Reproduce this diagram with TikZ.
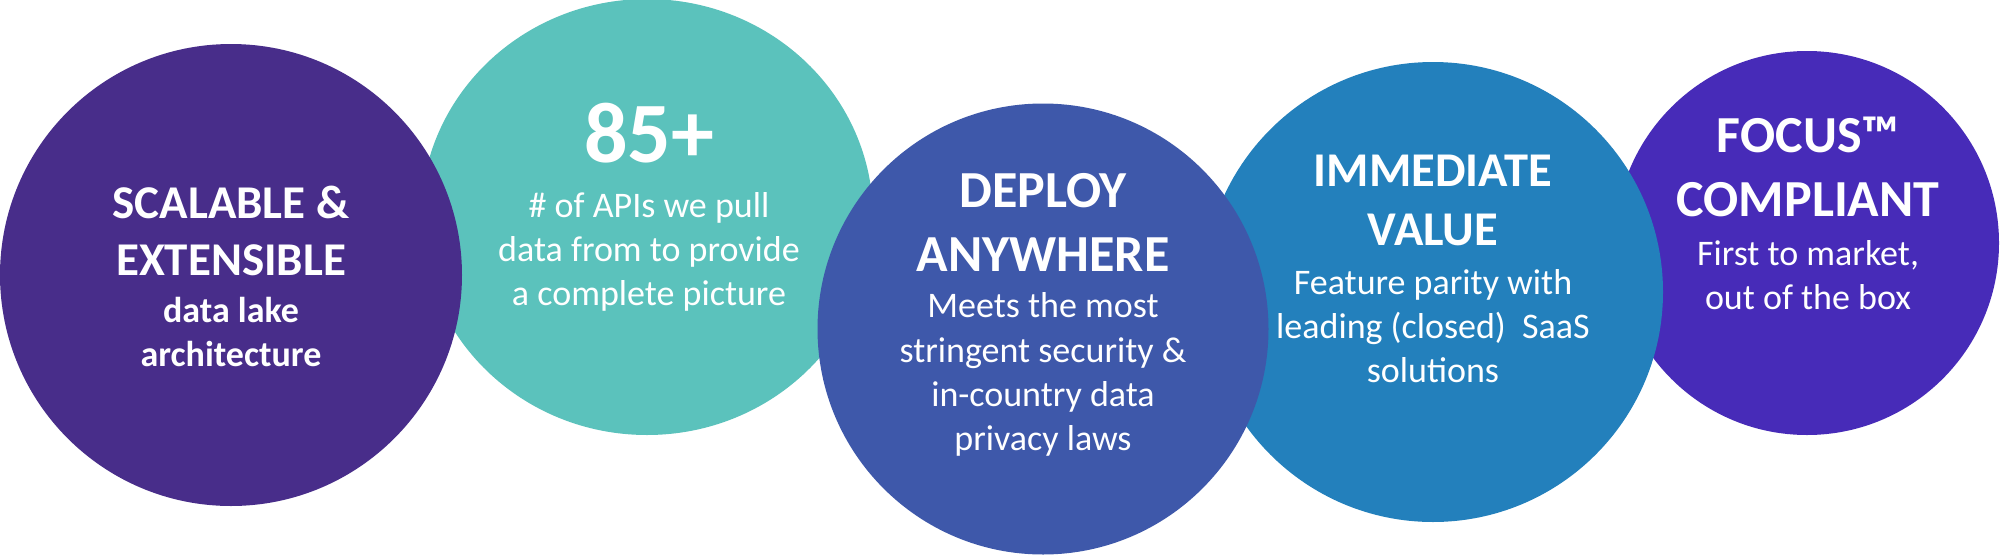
\documentclass[tikz,border=0pt]{standalone}
\usepackage{fontspec}
\setmainfont{Carlito}
\usetikzlibrary{shapes.geometric}
\definecolor{cPurple}{HTML}{482D8A}
\definecolor{cTeal}{HTML}{5BC2BC}
\definecolor{cDeploy}{HTML}{3E58AA}
\definecolor{cValue}{HTML}{2380BC}
\definecolor{cFocus}{HTML}{472BB8}
\begin{document}
\begin{tikzpicture}[x=1pt,y=-1pt,
  disc/.style={circle, inner sep=0pt, outer sep=0pt, draw=none},
  oval/.style={ellipse, inner sep=0pt, outer sep=0pt, draw=none},
  txt/.style={text=white, anchor=base, inner sep=0pt, outer sep=0pt},
  headA/.style={txt, font=\bfseries\fontsize{47}{56}\selectfont},
  headV/.style={txt, font=\bfseries\fontsize{48.5}{56}\selectfont},
  headB/.style={txt, font=\bfseries\fontsize{52}{60}\selectfont},
  big/.style={txt, font=\bfseries\fontsize{86}{90}\selectfont},
  subb/.style={txt, font=\bfseries\fontsize{36}{44}\selectfont},
  body/.style={txt, font=\fontsize{36}{44}\selectfont}]
\path[use as bounding box, fill=white] (0,0) rectangle (2000,555);
% discs, back to front
\node[oval, fill=cTeal, minimum width=452pt, minimum height=436pt] (teal) at (647,217) {};
\node[disc, fill=cFocus, minimum size=384pt] (focus) at (1807,243) {};
\node[disc, fill=cValue, minimum size=460pt] (value) at (1433,292) {};
\node[disc, fill=cPurple, minimum size=462pt] (scal) at (231,275) {};
\node[disc, fill=cDeploy, minimum size=451pt] (deploy) at (1043,329) {};
% circle 1
\node[headA] (s1) at (231,218) {SCALABLE \&};
\node[headA] (s2) at (231,275) {EXTENSIBLE};
\node[subb] (s3) at (231,322) {data lake};
\node[subb] (s4) at (231,366) {architecture};
% teal
\node[big] (t1) at (649,162) {85+};
\node[body] (t2) at (649,217) {\# of APIs we pull};
\node[body] (t3) at (649,261) {data from to provide};
\node[body] (t4) at (649,305) {a complete picture};
% deploy
\node[headB] (d1) at (1043,207) {DEPLOY};
\node[headB] (d2) at (1043,271) {ANYWHERE};
\node[body] (d3) at (1043,317) {Meets the most};
\node[body] (d4) at (1043,362) {stringent security \&};
\node[body] (d5) at (1043,406) {in-country data};
\node[body] (d6) at (1043,450) {privacy laws};
% value
\node[headV] (v1) at (1433,186) {IMMEDIATE};
\node[headV] (v2) at (1433,245) {VALUE};
\node[body] (v3) at (1433,294) {Feature parity with};
\node[body] (v4) at (1433,338) {leading (closed)\ \ SaaS};
\node[body] (v5) at (1433,382) {solutions};
% focus
\node[headB] (f1) at (1808,152) {FOCUS™};
\node[headB] (f2) at (1808,216) {COMPLIANT};
\node[body] (f3) at (1808,265) {First to market,};
\node[body] (f4) at (1808,309) {out of the box};
\end{tikzpicture}
\end{document}
